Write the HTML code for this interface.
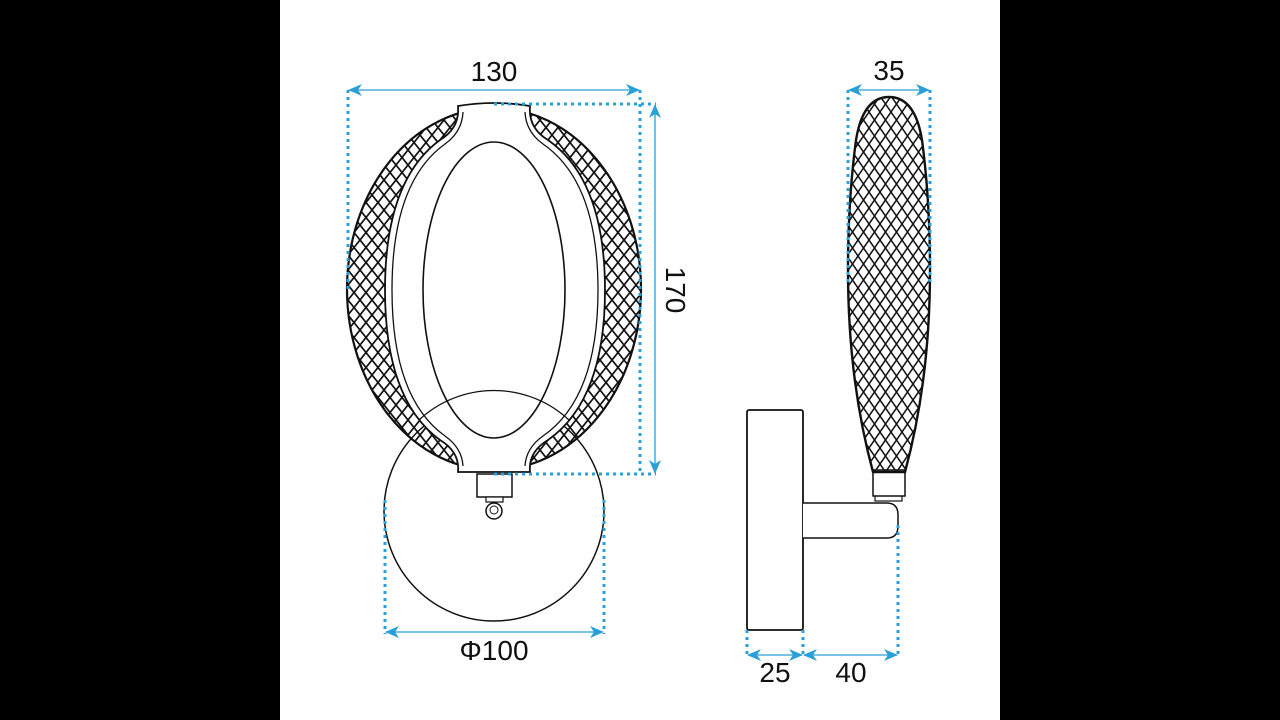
<!DOCTYPE html>
<html><head><style>
html,body{margin:0;padding:0;background:#000;}
svg{display:block;}
text{font-family:"Liberation Sans Narrow","Liberation Sans",sans-serif;font-size:28px;fill:#111;}
</style></head><body>
<svg width="1280" height="720" viewBox="0 0 1280 720" xmlns="http://www.w3.org/2000/svg">
<defs>
<pattern id="hat" width="12" height="15" patternUnits="userSpaceOnUse">
<path d="M0 0L12 15M12 0L0 15" stroke="#111" stroke-width="1.7" fill="none"/>
</pattern>
<pattern id="hat2" width="11" height="16" patternUnits="userSpaceOnUse">
<path d="M0 0L11 16M11 0L0 16" stroke="#111" stroke-width="1.5" fill="none"/>
</pattern>
<mask id="band">
<ellipse cx="494" cy="289" rx="147" ry="181" fill="#fff"/>
<path d="M458 106 Q460 128 440 140 Q385 180 385 290 Q385 400 440 440 Q460 452 458 472 L530 472 Q528 452 548 440 Q605 400 605 290 Q605 180 548 140 Q528 128 530 106 Z" fill="#000"/>
</mask>
<clipPath id="leaf"><path d="M889 97 Q915 97 922 140 Q930 200 930 270 Q930 380 905 472 L873 472 Q848 380 848 270 Q848 200 856 140 Q863 97 889 97 Z"/></clipPath>
<marker id="ar" markerWidth="14" markerHeight="12" refX="13" refY="6" orient="auto-start-reverse" markerUnits="userSpaceOnUse"><path d="M0 0L14 6L0 12L4 6Z" fill="#2a9fd8"/></marker>
</defs>
<rect x="280" y="0" width="720" height="720" fill="#fff"/>
<circle cx="494" cy="511" r="110" fill="none" stroke="#111" stroke-width="1.5"/>
<rect x="347" y="108" width="294" height="364" fill="url(#hat)" mask="url(#band)"/>
<ellipse cx="494" cy="289" rx="147" ry="181" fill="none" stroke="#111" stroke-width="2.2"/>
<path d="M458 106 Q460 128 440 140 Q385 180 385 290 Q385 400 440 440 Q460 452 458 472 L530 472 Q528 452 548 440 Q605 400 605 290 Q605 180 548 140 Q528 128 530 106 Q494 100 458 106 Z" fill="#fff" stroke="#111" stroke-width="1.8"/>
<path d="M463 112 Q462 132 445 144 Q392 182 392 290 Q392 398 445 436 Q462 448 463 466" fill="none" stroke="#111" stroke-width="1.3"/>
<path d="M525 112 Q526 132 543 144 Q598 182 598 290 Q598 398 543 436 Q526 448 525 466" fill="none" stroke="#111" stroke-width="1.3"/>
<ellipse cx="494" cy="290" rx="71" ry="148" fill="none" stroke="#111" stroke-width="1.6"/>
<path d="M419 420 A110 110 0 0 1 569 420" fill="none" stroke="#111" stroke-width="1.3"/>
<rect x="477" y="474" width="35" height="23" fill="#fff" stroke="#111" stroke-width="1.5"/>
<rect x="486" y="497" width="17" height="5" fill="#fff" stroke="#111" stroke-width="1.2"/>
<circle cx="494" cy="511" r="8" fill="#fff" stroke="#111" stroke-width="1.5"/>
<circle cx="494" cy="510" r="4" fill="none" stroke="#111" stroke-width="1"/>
<rect x="747" y="410" width="56" height="220" rx="2" fill="#fff" stroke="#111" stroke-width="1.8"/>
<path d="M803 503 H887 Q898 503 898 515 V526 Q898 538 887 538 H803" fill="#fff" stroke="#111" stroke-width="1.5"/>
<rect x="875" y="495" width="27" height="6" fill="#fff" stroke="#111" stroke-width="1.2"/>
<rect x="873" y="470" width="32" height="26" fill="#fff" stroke="#111" stroke-width="1.5"/>
<rect x="848" y="97" width="82" height="376" fill="url(#hat2)" clip-path="url(#leaf)"/>
<path d="M889 97 Q915 97 922 140 Q930 200 930 270 Q930 380 905 472 L873 472 Q848 380 848 270 Q848 200 856 140 Q863 97 889 97 Z" fill="none" stroke="#111" stroke-width="2.4"/>
<g stroke="#2a9fd8" stroke-width="3" stroke-dasharray="3 4" fill="none">
<path d="M348 90V290M640 90V472M494 104H656M494 474H656M385 500V634M604 500V634M848 90V285M930 90V285M747 630V657M803 630V657M898 525V657"/>
</g>
<g stroke="#2a9fd8" stroke-width="1.3" fill="none" marker-start="url(#ar)" marker-end="url(#ar)">
<line x1="349" y1="90" x2="639" y2="90"/>
<line x1="655" y1="105" x2="655" y2="473"/>
<line x1="386" y1="632" x2="603" y2="632"/>
<line x1="849" y1="90" x2="929" y2="90"/>
<line x1="748" y1="655" x2="802" y2="655"/>
<line x1="804" y1="655" x2="897" y2="655"/>
</g>
<text x="494" y="81" text-anchor="middle">130</text>
<text transform="translate(666,290) rotate(90)" text-anchor="middle">170</text>
<text x="494" y="660" text-anchor="middle">Φ100</text>
<text x="889" y="80" text-anchor="middle">35</text>
<text x="775" y="682" text-anchor="middle">25</text>
<text x="851" y="682" text-anchor="middle">40</text>
</svg>
</body></html>
